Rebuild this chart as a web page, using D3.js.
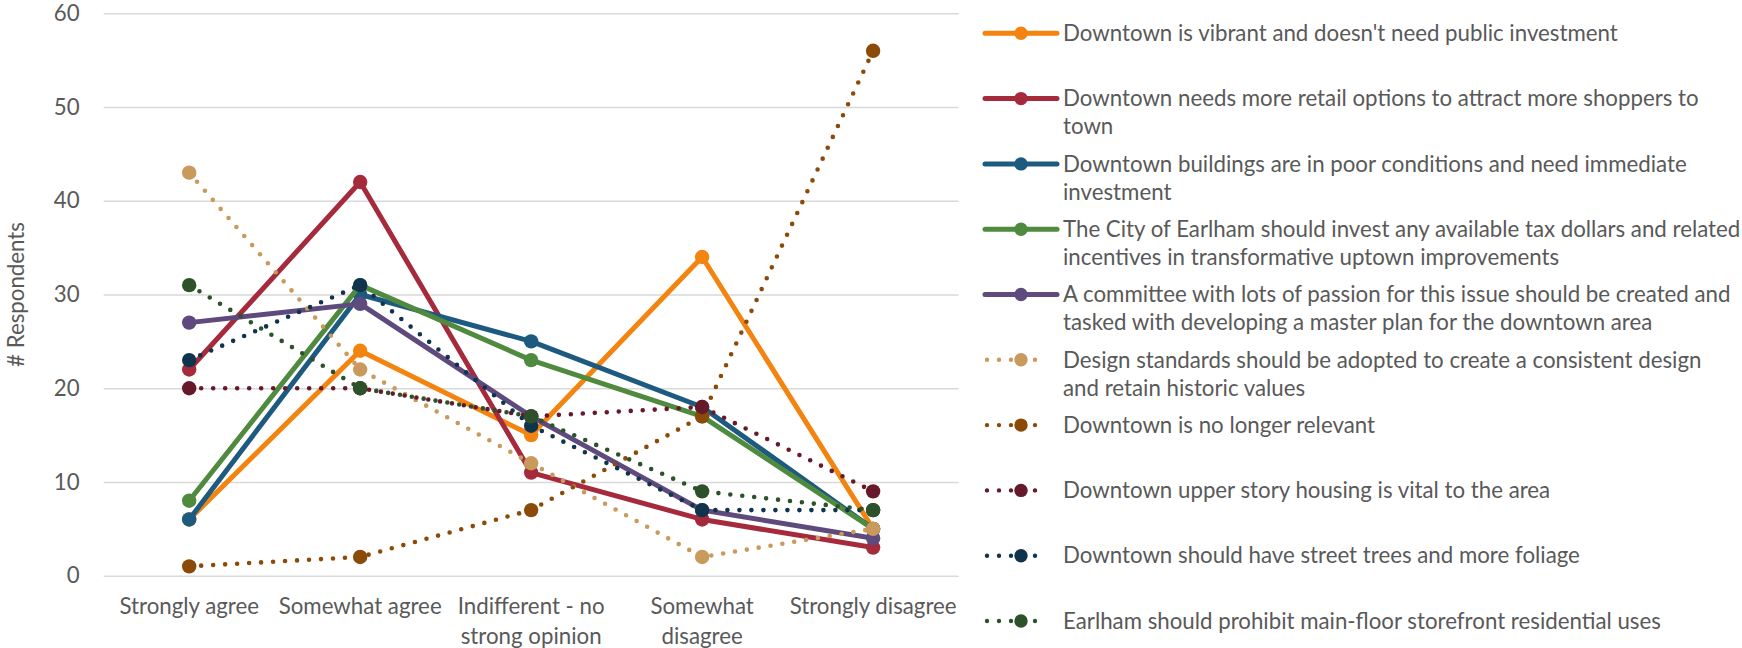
<!DOCTYPE html>
<html>
<head>
<meta charset="utf-8">
<script src="https://cdn.jsdelivr.net/npm/d3@7"></script>
<style>
  html, body { margin: 0; padding: 0; background: #ffffff; }
  svg { display: block; }
</style>
</head>
<body>
<svg id="chart" width="1742" height="648"></svg>
<script>
// ---------------- DATA ----------------
const categories = ["Strongly agree", "Somewhat agree", "Indifferent - no strong opinion", "Somewhat disagree", "Strongly disagree"];
const categoryLines = [["Strongly agree"], ["Somewhat agree"], ["Indifferent - no", "strong opinion"], ["Somewhat", "disagree"], ["Strongly disagree"]];
const yTicks = [0, 10, 20, 30, 40, 50, 60];
const yTitle = "# Respondents";

const vibrant      = [6, 24, 15, 34, 5];
const retail       = [22, 42, 11, 6, 3];
const buildings    = [6, 30, 25, 18, 5];
const taxDollars   = [8, 31, 23, 17, 5];
const committee    = [27, 29, 17, 7, 4];
const designStd    = [43, 22, 12, 2, 5];
const noLonger     = [1, 2, 7, 17, 56];
const upperStory   = [20, 20, 17, 18, 9];
const streetTrees  = [23, 31, 16, 7, 7];
const prohibit     = [31, 20, 17, 9, 7];

const seriesNames = [
  ["Downtown is vibrant and doesn't need public investment"],
  ["Downtown needs more retail options to attract more shoppers to", "town"],
  ["Downtown buildings are in poor conditions and need immediate", "investment"],
  ["The City of Earlham should invest any available tax dollars and related", "incentives in transformative uptown improvements"],
  ["A committee with lots of passion for this issue should be created and", "tasked with developing a master plan for the downtown area"],
  ["Design standards should be adopted to create a consistent design", "and retain historic values"],
  ["Downtown is no longer relevant"],
  ["Downtown upper story housing is vital to the area"],
  ["Downtown should have street trees and more foliage"],
  ["Earlham should prohibit main-floor storefront residential uses"]
];
const seriesValues = [vibrant, retail, buildings, taxDollars, committee, designStd, noLonger, upperStory, streetTrees, prohibit];
const seriesColors = ["#F2840F", "#A52A3C", "#1D5A80", "#4F8A3F", "#5E4A7C", "#C99A5C", "#8B4A07", "#66192A", "#10344E", "#2D5229"];
const seriesDotted = [false, false, false, false, false, true, true, true, true, true];

// ---------------- LAYOUT ----------------
const svg = d3.select("#chart");
const plot = { left: 103.7, right: 958.6, top: 13.3, bottom: 575.7 };
const textColor = "#595959";
const fontFamily = "Lato, 'Open Sans', sans-serif";

// fit font size so the reference text width is matched
const probe = svg.append("text").attr("font-family", fontFamily).attr("font-size", 100)
  .text("Downtown is vibrant and doesn't need public investment");
const probeW = probe.node().getComputedTextLength();
probe.remove();
const fs = 100 * 555 / probeW;

const x = d3.scaleBand().domain(categories).range([plot.left, plot.right]);
const y = d3.scaleLinear().domain([0, 60]).range([plot.bottom, plot.top]);
const cx = c => x(c) + x.bandwidth() / 2;

// gridlines + y axis
const yAxis = d3.axisLeft(y).tickValues(yTicks).tickSize(-(plot.right - plot.left)).tickPadding(24);
const gy = svg.append("g").attr("transform", `translate(${plot.left},0)`).call(yAxis);
gy.select(".domain").remove();
gy.selectAll(".tick line").attr("stroke", "#D9D9D9").attr("stroke-width", 1.6);
gy.selectAll(".tick text").attr("fill", textColor).attr("font-family", fontFamily).attr("font-size", fs);

// x axis
const xAxis = d3.axisBottom(x).tickSize(0).tickFormat("");
const gx = svg.append("g").attr("transform", `translate(0,${plot.bottom})`).call(xAxis);
gx.select(".domain").remove();
gx.selectAll(".tick").each(function(d, i) {
  const t = d3.select(this).append("text")
    .attr("fill", textColor).attr("font-family", fontFamily).attr("font-size", fs)
    .attr("text-anchor", "middle");
  categoryLines[i].forEach((ln, j) => {
    t.append("tspan").attr("x", 0).attr("y", 31 + j * 29.3).attr("dy", "0.35em").text(ln);
  });
});

// y title
svg.append("text")
  .attr("transform", `translate(16,${(plot.top + plot.bottom) / 2}) rotate(-90)`)
  .attr("text-anchor", "middle").attr("dy", "0.35em")
  .attr("fill", textColor).attr("font-family", fontFamily).attr("font-size", fs)
  .text(yTitle);

// series
const line = d3.line().x((d, i) => cx(categories[i])).y(d => y(d));
seriesValues.forEach((vals, s) => {
  const g = svg.append("g");
  const p = g.append("path").datum(vals).attr("d", line)
    .attr("fill", "none").attr("stroke", seriesColors[s])
    .attr("stroke-linejoin", "round").attr("stroke-linecap", "round");
  if (seriesDotted[s]) {
    p.attr("stroke-width", 4.6).attr("stroke-dasharray", "0 12");
  } else {
    p.attr("stroke-width", 5);
  }
  g.selectAll("circle").data(vals).join("circle")
    .attr("cx", (d, i) => cx(categories[i])).attr("cy", d => y(d))
    .attr("r", 7.2).attr("fill", seriesColors[s]);
});

// legend
const legendX0 = 985, legendX1 = 1057, legendMark = 1021, legendText = 1063;
const legendY0 = 33.3, legendStep = 65.3, legendLineH = 28;
seriesNames.forEach((lines, s) => {
  const yy = legendY0 + s * legendStep;
  const g = svg.append("g");
  if (seriesDotted[s]) {
    g.append("line").attr("x1", 987).attr("x2", 1047).attr("y1", yy).attr("y2", yy)
      .attr("stroke", seriesColors[s]).attr("stroke-width", 4.4)
      .attr("stroke-linecap", "round").attr("stroke-dasharray", "0 12");
  } else {
    g.append("line").attr("x1", legendX0).attr("x2", legendX1).attr("y1", yy).attr("y2", yy)
      .attr("stroke", seriesColors[s]).attr("stroke-width", 5).attr("stroke-linecap", "round");
  }
  g.append("circle").attr("cx", legendMark).attr("cy", yy).attr("r", 6.7).attr("fill", seriesColors[s]);
  const t = g.append("text").attr("fill", textColor).attr("font-family", fontFamily).attr("font-size", fs);
  lines.forEach((ln, j) => {
    t.append("tspan").attr("x", legendText).attr("y", yy + j * legendLineH).attr("dy", "0.35em").text(ln);
  });
});
</script>
</body>
</html>
